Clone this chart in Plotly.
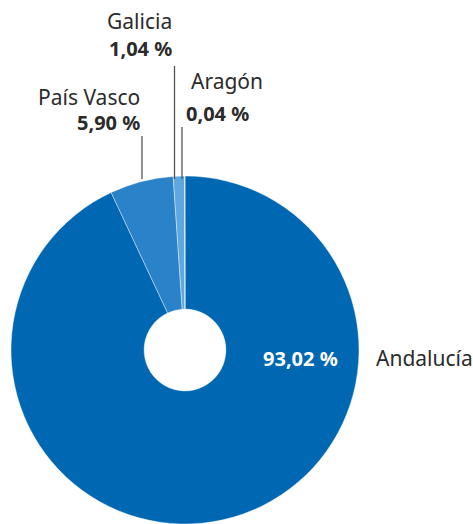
import plotly.graph_objects as go

# ---- data ----
regions = ["Andalucía", "País Vasco", "Galicia", "Aragón"]
shares = [93.02, 5.90, 1.04, 0.04]
share_labels = ["93,02 %", "5,90 %", "1,04 %", "0,04 %"]
colors = ["#0068b3", "#2a83c9", "#5ea8de", "#9ccbee"]

W, H = 473, 524
CX, CY, R = 185, 350, 174

def px(x, y):
    return x / W, 1 - y / H

FONT = "Noto Sans"
FS = 21
DARK = "#2b2b2b"

fig = go.Figure(go.Pie(
    labels=regions,
    values=shares,
    sort=False,
    direction="clockwise",
    rotation=0,
    hole=0.235,
    textinfo="none",
    hoverinfo="label+percent",
    marker=dict(colors=colors, line=dict(color="white", width=0.4)),
    domain=dict(x=[(CX - R) / W, (CX + R) / W], y=[0, (2 * R) / H]),
))

annotations = []
shapes = []

def text(x, y, s, anchor, color=DARK, bold=False, size=FS):
    ax, ay = px(x, y)
    annotations.append(dict(x=ax, y=ay, xref="paper", yref="paper",
                            text=("<b>" + s + "</b>") if bold else s,
                            showarrow=False, xanchor=anchor, yanchor="middle",
                            font=dict(family=FONT, size=size, color=color)))

def leader(line_x, line_top):
    x0, y0 = px(line_x, line_top)
    x1, y1 = px(line_x, CY - R + 3)
    shapes.append(dict(type="line", xref="paper", yref="paper", x0=x0, y0=y0, x1=x1, y1=y1,
                       line=dict(color="#555555", width=1.3)))

# Galicia
text(174, 21, regions[2], "right")
text(174, 48, share_labels[2], "right", bold=True, size=20)
leader(174.5, 66)
# País Vasco
text(142, 97, regions[1], "right")
text(142, 122, share_labels[1], "right", bold=True, size=20)
leader(142, 136)
# Aragón
text(189, 81, regions[3], "left")
text(184, 113, share_labels[3], "left", bold=True, size=20)
leader(182, 127)
# Andalucía
text(300, 358, share_labels[0], "center", color="white", bold=True, size=20)
text(374, 358, regions[0], "left")

fig.update_layout(
    width=W, height=H,
    margin=dict(l=0, r=0, t=0, b=0),
    showlegend=False,
    paper_bgcolor="white",
    plot_bgcolor="white",
    annotations=annotations,
    shapes=shapes,
)

fig.write_html("out.html")
